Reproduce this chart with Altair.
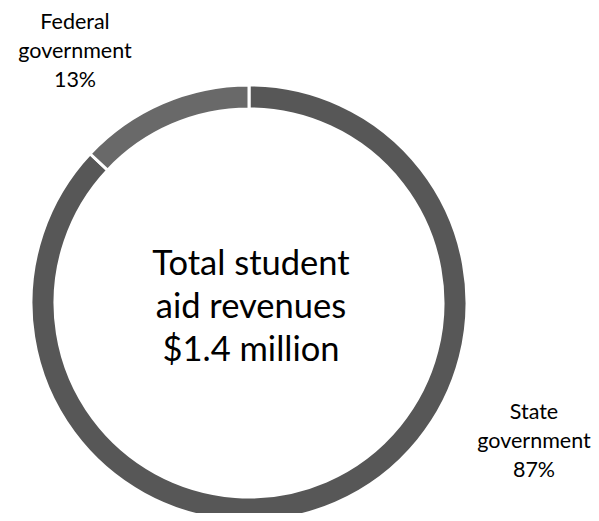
import altair as alt
import pandas as pd

categories = ["State government", "Federal government"]
shares = [87, 13]
colors = ["#575757", "#696969"]
center_lines = ["Total student", "aid revenues", "$1.4 million"]

df = pd.DataFrame({"category": categories, "share": shares, "order": [0, 1]})

FONT = "Lato"

base = alt.Chart(df)

arc = base.mark_arc(outerRadius=218, innerRadius=194, stroke="white", strokeWidth=3).encode(
    theta=alt.Theta("share:Q", stack=True),
    order=alt.Order("order:Q"),
    color=alt.Color("category:N", scale=alt.Scale(domain=categories, range=colors), legend=None),
    x=alt.value(241),
    y=alt.value(295),
)

label_expr = "[split(datum.category, ' ')[0], split(datum.category, ' ')[1], datum.share + '%']"

fed_label = base.transform_filter(alt.datum.category == "Federal government").transform_calculate(
    lbl=label_expr
).mark_text(font=FONT, fontSize=21.5, lineHeight=29, baseline="middle", align="center", color="#000000").encode(
    text="lbl:N", x=alt.value(67), y=alt.value(15)
)

state_label = base.transform_filter(alt.datum.category == "State government").transform_calculate(
    lbl=label_expr
).mark_text(font=FONT, fontSize=21.5, lineHeight=29, baseline="middle", align="center", color="#000000").encode(
    text="lbl:N", x=alt.value(526), y=alt.value(405)
)

center = alt.Chart(pd.DataFrame({"a": [0]})).mark_text(
    text=center_lines, font=FONT, fontSize=34.5, lineHeight=43, baseline="middle", align="center", color="#000000"
).encode(x=alt.value(243), y=alt.value(257))

chart = alt.layer(arc, fed_label, state_label, center).properties(
    width=583, height=505, autosize=alt.AutoSizeParams(type="none"), padding=0
).configure_view(stroke=None)

chart.save("out.html", embed_options={"renderer": "svg", "actions": False})
